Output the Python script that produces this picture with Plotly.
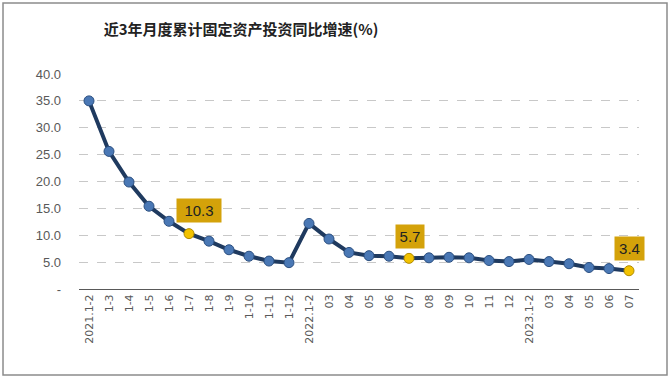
import plotly.graph_objects as go

categories = ["2021.1-2", "1-3", "1-4", "1-5", "1-6", "1-7", "1-8", "1-9", "1-10", "1-11", "1-12",
              "2022.1-2", "03", "04", "05", "06", "07", "08", "09", "10", "11", "12",
              "2023.1-2", "03", "04", "05", "06", "07"]
values = [35.0, 25.6, 19.9, 15.4, 12.6, 10.3, 8.9, 7.3, 6.1, 5.2, 4.9,
          12.2, 9.3, 6.8, 6.2, 6.1, 5.7, 5.8, 5.9, 5.8, 5.3, 5.1,
          5.5, 5.1, 4.7, 4.0, 3.8, 3.4]
highlight_idx = [5, 16, 27]
label_offsets = [(10, -23), (1, -22), (0, -22)]
label_widths = [42, 26, 27]
y_ticks = [0, 5, 10, 15, 20, 25, 30, 35, 40]
y_tick_text = ["-", "5.0", "10.0", "15.0", "20.0", "25.0", "30.0", "35.0", "40.0"]

xpos = list(range(len(categories)))
marker_colors = ["#F2C200" if i in highlight_idx else "#4A78B5" for i in xpos]
marker_lines = ["#B08A00" if i in highlight_idx else "#2B4F80" for i in xpos]

fig = go.Figure()
fig.add_trace(go.Scatter(
    x=xpos, y=values, mode="lines+markers",
    line=dict(color="#1F3A5F", width=4),
    marker=dict(size=10, color=marker_colors, line=dict(color=marker_lines, width=1)),
    customdata=categories, hovertemplate="%{customdata}: %{y}<extra></extra>",
    showlegend=False,
))

for i, (ax, ay), w in zip(highlight_idx, label_offsets, label_widths):
    fig.add_annotation(
        x=xpos[i], y=values[i], text=f"{values[i]:.1f}",
        showarrow=True, arrowcolor="rgba(0,0,0,0)", ax=ax, ay=ay,
        bgcolor="#D4A20A", borderpad=1, width=w, height=21,
        font=dict(family="Liberation Sans, Arial", size=15, color="#222222"),
    )

fig.add_shape(type="rect", xref="paper", yref="paper",
              x0=-0.1357, x1=1.0500, y0=-0.4, y1=1.3302,
              line=dict(color="#8C8C8C", width=1.5), fillcolor="rgba(0,0,0,0)", layer="below")

fig.update_layout(
    width=671, height=380,
    margin=dict(l=79, r=32, t=74, b=91),
    paper_bgcolor="white", plot_bgcolor="white",
    title=dict(text="<b>近3年月度累计固定资产投资同比增速(%)</b>",
               x=241 / 671, xanchor="center", y=1 - 30 / 380, yanchor="middle",
               font=dict(family="Noto Sans CJK SC", size=15, color="#222222")),
    xaxis=dict(tickmode="array", tickvals=xpos, ticktext=categories,
               tickangle=-90, showgrid=False, zeroline=False,
               showline=True, linecolor="#595959", linewidth=1,
               ticks="", tickfont=dict(family="DejaVu Sans", size=11, color="#595959"),
               range=[-0.5, len(categories) - 0.5]),
    yaxis=dict(range=[0, 40], tickvals=y_ticks, ticktext=y_tick_text,
               showgrid=True, gridcolor="#C8C8C8", griddash="dash", gridwidth=1,
               zeroline=False, showline=False, ticks="",
               tickfont=dict(family="Liberation Sans, Arial", size=13, color="#595959"),
               ticklabelstandoff=17),
)

fig.write_html("out.html", config={"displayModeBar": False},
               post_script="document.body.style.margin='0';")
